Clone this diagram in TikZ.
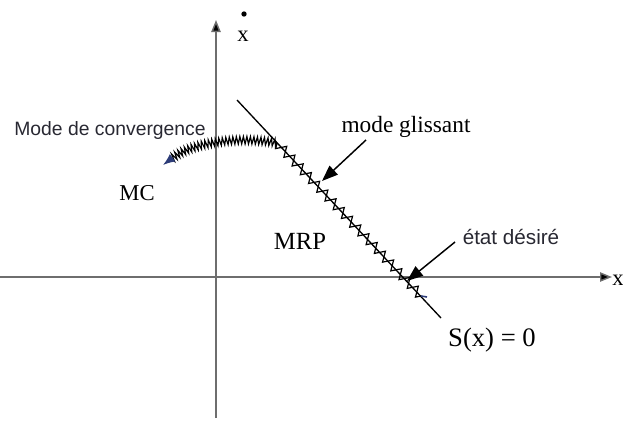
\documentclass[tikz,border=0pt]{standalone}
\usepackage{fontspec}
\setmainfont{Liberation Serif}
\setsansfont{Liberation Sans}
\usetikzlibrary{arrows.meta, positioning, decorations.pathmorphing}
\definecolor{axisgray}{RGB}{110,110,110}
\definecolor{tipblue}{RGB}{45,60,120}
\definecolor{labelink}{RGB}{40,40,50}

\tikzset{
  axis/.style={draw=axisgray, line width=1.1pt, -{Triangle[length=9pt, width=7pt, fill=black]}},
  pointer/.style={draw=black, line width=1.1pt, -{Triangle[length=12pt, width=9pt]}},
  sanslabel/.style={font=\sffamily\fontsize{15.5}{17}\selectfont, text=labelink, inner sep=1pt},
  seriflabel/.style={font=\fontsize{17}{19}\selectfont, inner sep=1pt},
  chatter/.style={decorate, decoration={zigzag, segment length=9pt, amplitude=3.6pt}},
  fastchatter/.style={decorate, decoration={zigzag, segment length=2.6pt, amplitude=2.8pt}}
}

\begin{document}
\begin{tikzpicture}[x=0.75pt, y=-0.75pt]
  \useasboundingbox (0,0) rectangle (623,421);

  % axes
  \coordinate (xl) at (0,277);
  \coordinate (xr) at (612,277);
  \coordinate (yb) at (216,418);
  \coordinate (yt) at (216,20);
  \draw[axis] (xl) -- (xr);
  \draw[axis] (yb) -- (yt);
  \node[seriflabel, anchor=west, inner sep=0pt] (xlab) at (612,280) {x};
  \node[seriflabel] (xdlab) at (243,36) {x};
  \fill (244,14) circle (2pt);

  % sliding surface S(x)=0
  \coordinate (stop) at (237,100);
  \coordinate (sbot) at (441,318);
  \draw[line width=1pt] (stop) -- (sbot);

  % trajectory
  \coordinate (tend) at (421,296);
  \coordinate (tmeet) at (277,143);
  \coordinate (tleft) at (171,159);
  \coordinate (ttip) at (163,165);
  \draw[line width=0.9pt, chatter] (tend) -- (tmeet);
  \draw[line width=0.9pt, fastchatter] (tmeet) .. controls (245,137) and (195,140) .. (tleft);
  \draw[tipblue, line width=1pt, -{Latex[length=9pt, width=7pt]}] (tleft) -- (ttip);
  \draw[tipblue, line width=1.2pt] (tend) -- ++(6,1);

  % labels
  \node[sanslabel, font=\sffamily\fontsize{14.5}{17}\selectfont] (conv) at (110,130) {Mode de convergence};
  \node[seriflabel] (mc) at (137,193) {MC};
  \node[seriflabel, font=\fontsize{18.5}{20}\selectfont] (mrp) at (300,241) {MRP};
  \node[seriflabel, font=\fontsize{17.5}{20}\selectfont] (gliss) at (406,127) {mode glissant};
  \node[sanslabel] (desire) at (511,237) {état désiré};
  \node[font=\fontsize{20}{22}\selectfont] (surf) at (492,340) {S(x) = 0};

  \coordinate (gtip) at (322,181);
  \coordinate (dtip) at (407,281);
  \draw[pointer] (366,140) -- (gtip);
  \draw[pointer] (455,242) -- (dtip);
\end{tikzpicture}
\end{document}
